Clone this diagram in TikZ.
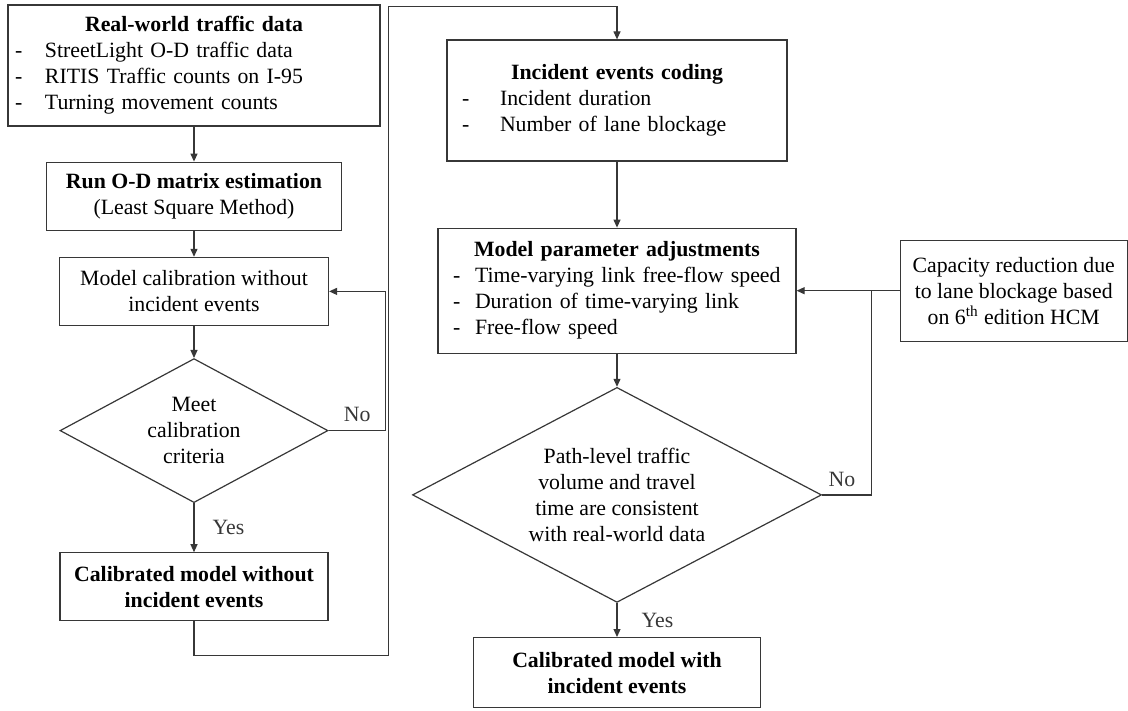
\documentclass[tikz,border=0pt]{standalone}
\usepackage{fontspec}
\setmainfont{Liberation Serif}
\usetikzlibrary{shapes.geometric, arrows.meta, positioning}
\definecolor{linegray}{RGB}{55, 55, 55}
\newcommand{\boxtitle}[1]{\makebox[\linewidth]{\textbf{#1}}}
\newcommand{\dashitem}[2]{\makebox[#1][l]{-}#2}

\begin{document}
\begin{tikzpicture}[
    x=0.5pt, y=-0.5pt,
    >={Triangle[length=4pt, width=3.5pt]},
    box/.style={draw=linegray, line width=0.6pt, align=center, inner sep=2pt,
                font=\fontsize{10.9}{13}\selectfont},
    txtbox/.style={box, align=left},
    decision/.style={box, diamond, inner sep=1pt},
    arr/.style={->, line width=0.6pt, color=linegray},
    lnk/.style={line width=0.6pt, color=linegray},
    lbl/.style={inner sep=0pt, font=\fontsize{10.9}{13}\selectfont},
]
\useasboundingbox (0,0) rectangle (1128,711);

% --- Left column: calibration without incidents ---
\node[txtbox, text width=179pt, inner xsep=3.5pt, minimum height=60.5pt]
      (data) at (194,65.5)
      {\boxtitle{Real-world traffic data}\\
       \dashitem{15pt}{StreetLight O-D traffic data}\\
       \dashitem{15pt}{RITIS Traffic counts on I-95}\\
       \dashitem{15pt}{Turning movement counts}};
\node[box, minimum width=147.5pt, minimum height=34pt, below=17.5pt of data]
      (odm) {\textbf{Run O-D matrix estimation}\\(Least Square Method)};
\node[box, minimum width=134.5pt, minimum height=34pt, below=13pt of odm]
      (calib) {Model calibration without\\incident events};
\node[decision, minimum width=134pt, minimum height=72pt, aspect=1.86,
      below=16pt of calib] (meet) {Meet\\calibration\\criteria};
\node[box, minimum width=134pt, minimum height=34pt, below=24.5pt of meet]
      (calw) {\textbf{Calibrated model without}\\\textbf{incident events}};

% --- Right column: calibration with incidents ---
\node[txtbox, text width=155pt, inner xsep=7.5pt, minimum height=60.5pt]
      (inc) at (617,100.5)
      {\boxtitle{Incident events coding}\\
       \dashitem{19pt}{Incident duration}\\
       \dashitem{19pt}{Number of lane blockage}};
\node[txtbox, text width=164pt, inner xsep=7.5pt, minimum height=62.5pt,
      below=33pt of inc] (param)
      {\boxtitle{Model parameter adjustments}\\
       \dashitem{11pt}{Time-varying link free-flow speed}\\
       \dashitem{11pt}{Duration of time-varying link}\\
       \dashitem{11pt}{Free-flow speed}};
\node[decision, minimum width=204.5pt, minimum height=107.5pt, aspect=1.9,
      below=16.5pt of param] (path)
      {Path-level traffic\\volume and travel\\time are consistent\\with real-world data};
\node[box, minimum width=143.5pt, minimum height=35pt, below=17pt of path]
      (calwi) {\textbf{Calibrated model with}\\\textbf{incident events}};

% --- Side input ---
\node[box, minimum width=113.5pt, minimum height=50.5pt, right=51.5pt of param]
      (cap) {Capacity reduction due\\to lane blockage based\\on 6\textsuperscript{th} edition HCM};

% --- Joints ---
\coordinate (lnk) at ([xshift=4pt, yshift=-1pt]data.north east);
\coordinate (nojoin) at ([xshift=37.5pt]param.east);

% ---- Arrows ----
\draw[arr] (data) -- (odm);
\draw[arr] (odm) -- (calib);
\draw[arr] (calib) -- (meet);
\draw[arr] (meet) -- node[lbl, midway, right=9pt] {Yes} (calw);
\draw[arr] (meet.east) -- ++(28.5pt,0) node[lbl, midway, above=4pt] {No}
    |- (calib.east);
\draw[arr] (calw.south) -- ++(0,-17pt) -| (lnk) -| (inc.north);

\draw[arr] (inc) -- (param);
\draw[arr] (param) -- (path);
\draw[arr] (path) -- node[lbl, midway, right=12pt] {Yes} (calwi);
\draw[arr] (cap) -- (param);
\draw[lnk] (path.east) -- node[lbl, pos=0.4, above=4pt] {No}
    (path.east -| nojoin) -- (nojoin);

\end{tikzpicture}
\end{document}
